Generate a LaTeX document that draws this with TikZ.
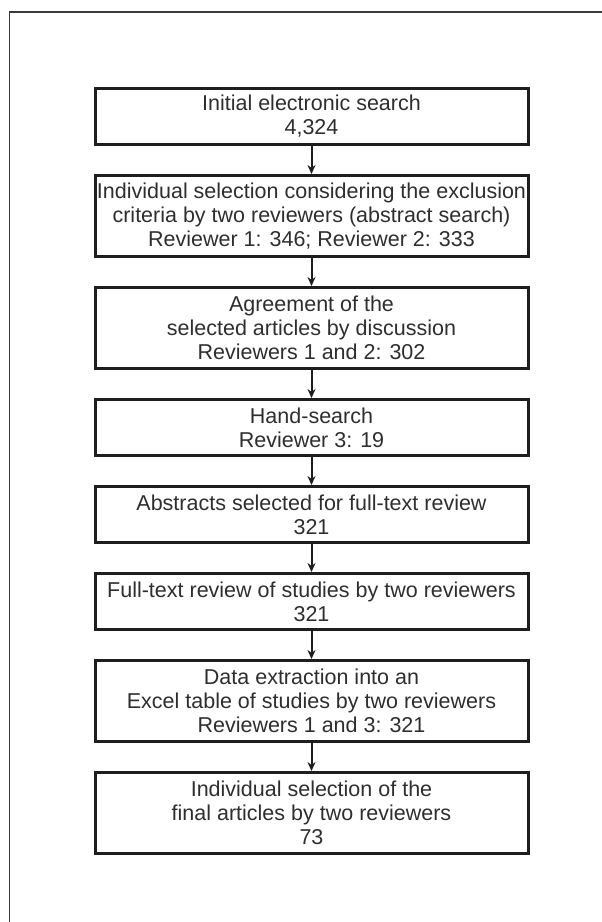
\documentclass[tikz,border=0pt]{standalone}
\usepackage{fontspec}
\setmainfont{Liberation Sans}
\usetikzlibrary{arrows.meta}
\definecolor{boxc}{HTML}{1E1E1E}
\definecolor{txtc}{HTML}{2E2E2E}
\definecolor{framec}{HTML}{3A3A3A}
\begin{document}
\begin{tikzpicture}[x=1pt,y=-1pt,
  stepbox/.style={draw=boxc, line width=3pt, minimum width=433pt, inner sep=0pt,
    align=center, text=txtc, anchor=north, font=\fontsize{21.5}{24}\selectfont},
  two/.style={stepbox, minimum height=56pt},
  three/.style={stepbox, minimum height=81pt},
  flow/.style={draw=boxc, line width=2pt, -{Stealth[length=9pt,width=8pt]}},
  frame/.style={draw=framec, line width=1.4pt}]
\useasboundingbox (0,0) rectangle (602,922);
\draw[frame] (602,12) -- (9.5,12) -- (9.5,922);
\node[two]   (b1) at (311.5,87)  {Initial electronic search\\4,324};
\node[three] (b2) at (311.5,174) {Individual selection considering the exclusion\\criteria by two reviewers (abstract search)\\Reviewer 1: 346; Reviewer 2: 333};
\node[three] (b3) at (311.5,286) {Agreement of the\\selected articles by discussion\\Reviewers 1 and 2: 302};
\node[two]   (b4) at (311.5,398) {Hand-search\\Reviewer 3: 19};
\node[two]   (b5) at (311.5,485) {Abstracts selected for full-text review\\321};
\node[two]   (b6) at (311.5,572) {Full-text review of studies by two reviewers\\321};
\node[three] (b7) at (311.5,659) {Data extraction into an\\Excel table of studies by two reviewers\\Reviewers 1 and 3: 321};
\node[three] (b8) at (311.5,771) {Individual selection of the\\final articles by two reviewers\\73};
\foreach \a/\b in {b1/b2,b2/b3,b3/b4,b4/b5,b5/b6,b6/b7,b7/b8}
  \draw[flow] (\a.south) -- (\b.north);
\end{tikzpicture}
\end{document}
